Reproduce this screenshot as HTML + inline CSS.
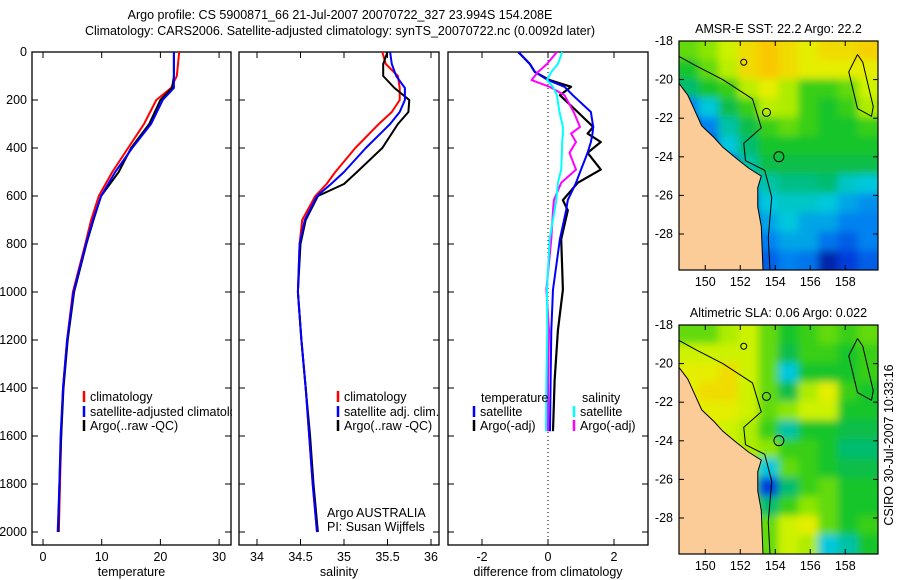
<!DOCTYPE html>
<html><head><meta charset="utf-8"><style>
body{margin:0;background:#fff;}
svg{display:block;font-family:"Liberation Sans",sans-serif;}
text{font-size:12.5px;fill:#000;}
</style></head><body>
<svg id="fig" width="900" height="580" viewBox="0 0 900 580">
<defs><filter id="blur" x="-5%" y="-5%" width="110%" height="110%"><feGaussianBlur stdDeviation="4"/></filter></defs>
<text x="340" y="19" text-anchor="middle">Argo profile: CS 5900871_66 21-Jul-2007 20070722_327 23.994S 154.208E</text>
<text x="340" y="35" text-anchor="middle">Climatology: CARS2006. Satellite-adjusted climatology: synTS_20070722.nc (0.0092d later)</text>
<g id="g1"></g>
<g id="g2"></g>
<g id="g3"></g>
<g id="m1"></g>
<g id="m2"></g>
<text transform="translate(893,445) rotate(-90)" text-anchor="middle">CSIRO 30-Jul-2007 10:33:16</text>
</svg>
<script>
const NS="http://www.w3.org/2000/svg";
// ---- profile data ----
const depthT=[0,50,100,150,200,300,400,500,600,700,800,1000,1200,1400,1600,1800,2000];
const tempClim=[23.2,23.0,22.8,21.8,19.3,17.2,14.5,11.8,9.5,8.2,7.2,5.1,4.1,3.4,3.1,2.9,2.7];
const tempSat=[22.3,22.3,22.3,22.3,20.4,18.4,15.2,12.3,9.9,8.5,7.3,5.2,4.1,3.4,3.0,2.8,2.5];
const tempArgo=[22.3,22.3,22.3,22.0,20.0,18.1,15.0,12.9,9.9,8.6,7.4,5.3,4.2,3.5,3.1,2.8,2.6];
const depthS=[0,50,100,150,200,250,300,400,500,550,600,700,800,1000,1200,1400,1600,1800,2000];
const salClim=[35.44,35.48,35.62,35.64,35.64,35.55,35.40,35.13,34.90,34.80,34.67,34.52,34.49,34.47,34.51,34.56,34.60,34.64,34.69];
const salSat=[35.53,35.55,35.60,35.70,35.70,35.64,35.53,35.25,35.00,34.85,34.69,34.55,34.49,34.47,34.51,34.56,34.60,34.64,34.69];
const salArgo=[35.50,35.45,35.45,35.58,35.75,35.74,35.62,35.44,35.15,35.00,34.70,34.56,34.50,34.47,34.51,34.56,34.61,34.65,34.70];
const depthD=[0,50,83,117,145,180,250,312,340,375,420,490,545,617,660,780,990,1160,1370,1580];
const dTempSat=[-0.9,-0.55,-0.4,0.0,0.5,0.75,1.3,1.37,1.35,1.3,1.2,1.0,0.85,0.6,0.55,0.36,0.15,0.1,0.08,0.06];
const dTempArgo=[-0.9,-0.55,-0.4,0.05,0.7,0.36,0.9,1.37,1.2,1.6,1.2,1.6,0.9,0.45,0.6,0.4,0.45,0.3,0.2,0.15];
const dSalSat=[0.43,0.3,0.1,-0.03,0.15,0.27,0.35,0.45,0.45,0.43,0.42,0.4,0.3,0.25,0.2,0.05,-0.03,-0.02,-0.05,-0.06];
const dSalArgo=[0.27,-0.03,-0.3,-0.5,0.05,0.5,0.78,0.97,0.7,0.85,0.65,0.85,0.4,0.18,0.15,0.1,-0.05,0.03,0.0,0.0];
const depthTicks=[0,200,400,600,800,1000,1200,1400,1600,1800,2000];
const tempTicks=[0,10,20,30];
const salTicks=[34,34.5,35,35.5,36];
const salTickLabels=["34","34.5","35","35.5","36"];
const diffTicks=[-2,0,2];
// ---- map data (rows from -18 south, 10 cols from 148.5E) ----
const sstGrid=[
[0.6,0.65,0.75,0.85,0.9,0.85,0.8,0.85,0.85,0.88],
[0.5,0.6,0.72,0.85,0.9,0.85,0.8,0.8,0.8,0.8],
[0.4,0.5,0.55,0.72,0.8,0.7,0.55,0.55,0.6,0.75],
[0.2,0.3,0.45,0.55,0.72,0.7,0.55,0.5,0.55,0.7],
[0.1,0.2,0.35,0.45,0.55,0.6,0.55,0.5,0.5,0.55],
[0.05,0.1,0.3,0.4,0.5,0.5,0.5,0.5,0.5,0.5],
[0,0.05,0.15,0.35,0.45,0.45,0.45,0.45,0.45,0.45],
[0,0,0.05,0.25,0.35,0.38,0.38,0.4,0.32,0.3],
[0,0,0.05,0.15,0.3,0.32,0.32,0.3,0.25,0.22],
[0,0,0.05,0.15,0.25,0.3,0.25,0.25,0.2,0.2],
[0,0,0,0.1,0.2,0.25,0.25,0.18,0.15,0.2],
[0,0,0,0.1,0.15,0.2,0.18,0.05,0.1,0.15]];
const slaGrid=[
[0.6,0.6,0.7,0.75,0.6,0.5,0.55,0.6,0.55,0.6],
[0.75,0.75,0.75,0.75,0.6,0.45,0.55,0.55,0.5,0.55],
[0.8,0.8,0.85,0.75,0.6,0.3,0.5,0.5,0.5,0.55],
[0.8,0.85,0.85,0.75,0.6,0.45,0.7,0.8,0.55,0.5],
[0.8,0.8,0.8,0.75,0.6,0.65,0.75,0.75,0.5,0.5],
[0.75,0.8,0.75,0.7,0.55,0.35,0.5,0.5,0.45,0.45],
[0.75,0.75,0.75,0.7,0.65,0.55,0.55,0.5,0.4,0.4],
[0.7,0.7,0.7,0.6,0.3,0.6,0.55,0.5,0.45,0.45],
[0.7,0.7,0.7,0.55,0.1,0.4,0.55,0.6,0.5,0.5],
[0.7,0.7,0.7,0.6,0.4,0.55,0.65,0.6,0.5,0.5],
[0.7,0.7,0.7,0.6,0.6,0.75,0.8,0.6,0.5,0.55],
[0.7,0.7,0.7,0.6,0.6,0.75,0.7,0.3,0.35,0.5]];
const coastLon=[148.5,149.0,149.4,149.8,150.5,151.0,151.8,152.5,153.2,153.0,153.0,153.2,153.3,148.5];
const coastLat=[-20.2,-20.8,-21.6,-22.4,-23.0,-23.5,-24.1,-24.6,-25.0,-25.6,-26.6,-27.6,-29.9,-29.9];
const isoLon=[148.5,149.5,151.0,152.7,153.2,152.2,152.3,153.4,153.8,153.6,153.7];
const isoLat=[-18.8,-19.3,-20.0,-21.0,-22.5,-23.3,-24.2,-24.7,-26.1,-28.2,-29.9];
const reefLon=[158.7,159.0,159.6,159.5,158.7,158.2,158.7];
const reefLat=[-18.7,-19.1,-21.4,-21.9,-21.5,-19.6,-18.7];
const latTicks=[-18,-20,-22,-24,-26,-28];
const lonTicks=[150,152,154,156,158];

function el(p,tag,attrs){const e=document.createElementNS(NS,tag);for(const k in attrs)e.setAttribute(k,attrs[k]);p.appendChild(e);return e;}
function txt(p,x,y,s,anchor){const t=el(p,'text',{x:x,y:y,'text-anchor':anchor||'start'});t.textContent=s;return t;}
const Y0=52,YS=0.24,YB=545;
const yD=d=>Y0+YS*d;
function panel(g,x0,x1,xf,ticks,labels,xlabel,showY){
  const r=el(g,'rect',{x:x0,y:Y0,width:x1-x0,height:YB-Y0,fill:'none',stroke:'#000','stroke-width':1.3});
  
  depthTicks.forEach(d=>{const y=yD(d);
    el(g,'line',{x1:x0,x2:x0+6,y1:y,y2:y,stroke:'#000'});el(g,'line',{x1:x1-6,x2:x1,y1:y,y2:y,stroke:'#000'});
    if(showY){const t=txt(g,x0-5,y+4,String(d),'end');}});
  ticks.forEach((v,i)=>{const x=xf(v);
    el(g,'line',{x1:x,x2:x,y1:Y0,y2:Y0+6,stroke:'#000'});el(g,'line',{x1:x,x2:x,y1:YB-6,y2:YB,stroke:'#000'});
    const t=txt(g,x,561,labels[i],'middle');});
  const t=txt(g,(x0+x1)/2,576,xlabel,'middle');
}
function line(g,xs,ds,xf,col,w,name){
  const pts=xs.map((v,i)=>xf(v).toFixed(1)+','+yD(ds[i]).toFixed(1)).join(' ');
  const p=el(g,'polyline',{points:pts,fill:'none',stroke:col,'stroke-width':w,'stroke-linejoin':'round'});
  
}
function leg(g,x,y,col,s){el(g,'line',{x1:x,x2:x,y1:y-6,y2:y+5,stroke:col,'stroke-width':2.5});
  const t=txt(g,x+6,y+4,s);}
// temperature
const g1=document.getElementById('g1');const xT=v=>43+5.87*v;
panel(g1,32,231,xT,tempTicks,tempTicks.map(String),'temperature',true);
line(g1,tempClim,depthT,xT,'#f00',2,'temperature-climatology-line');
line(g1,tempArgo,depthT,xT,'#000',2,'temperature-argo-line');
line(g1,tempSat,depthT,xT,'#00f',2,'temperature-satellite-line');
const c1=el(g1,'svg',{x:32,y:380,width:200,height:60,overflow:'hidden'});
leg(c1,52,17,'#f00','climatology');leg(c1,52,32,'#00f','satellite-adjusted climatology');leg(c1,52,46,'#000','Argo(..raw -QC)');
// salinity
const g2=document.getElementById('g2');const xS=v=>257+87*(v-34);
panel(g2,239,439,xS,salTicks,salTickLabels,'salinity',false);
line(g2,salClim,depthS,xS,'#f00',2,'salinity-climatology-line');
line(g2,salArgo,depthS,xS,'#000',2,'salinity-argo-line');
line(g2,salSat,depthS,xS,'#00f',2,'salinity-satellite-line');
leg(g2,338,397,'#f00','climatology');leg(g2,338,412,'#00f','satellite adj. clim.');leg(g2,338,426,'#000','Argo(..raw -QC)');
txt(g2,327,517,'Argo AUSTRALIA');txt(g2,327,531,'PI: Susan Wijffels');
// difference
const g3=document.getElementById('g3');const xDf=v=>548+33*v;
panel(g3,448,648,xDf,diffTicks,diffTicks.map(String),'difference from climatology',false);
el(g3,'line',{x1:xDf(0),x2:xDf(0),y1:Y0,y2:YB,stroke:'#000','stroke-dasharray':'1,3'});
line(g3,dTempArgo,depthD,xDf,'#000',2.2,'temp-argo-diff-line');
line(g3,dTempSat,depthD,xDf,'#00f',2,'temp-satellite-diff-line');
line(g3,dSalArgo,depthD,xDf,'#f0f',2,'sal-argo-diff-line');
line(g3,dSalSat,depthD,xDf,'#0ff',2,'sal-satellite-diff-line');
txt(g3,481,402,'temperature');txt(g3,582,402,'salinity');
leg(g3,474,412,'#00f','satellite');leg(g3,474,426,'#000','Argo(-adj)');
leg(g3,574,412,'#0ff','satellite');leg(g3,574,426,'#f0f','Argo(-adj)');
// maps
const stops=[[0,[0,16,120]],[0.1,[0,60,220]],[0.2,[0,130,240]],[0.3,[0,200,220]],[0.42,[0,185,90]],[0.52,[30,200,30]],[0.65,[140,230,0]],[0.78,[225,245,0]],[0.9,[250,200,0]],[1,[250,165,0]]];
function cmap(v){for(let i=1;i<stops.length;i++){if(v<=stops[i][0]){const a=stops[i-1],b=stops[i],t=(v-a[0])/(b[0]-a[0]);return 'rgb('+a[1].map((c,k)=>Math.round(c+(b[1][k]-c)*t)).join(',')+')';}}return 'rgb(250,165,0)';}
function map(id,top,grid,title){
  const g=document.getElementById(id);const L=679,R=878,B=top+229;
  const px=lon=>L+(lon-148.5)*17.5, py=lat=>top+(-18-lat)*19.3;
  const cid='clip'+id;const cp=el(g,'clipPath',{id:cid});el(cp,'rect',{x:L,y:top,width:R-L,height:B-top});
  const gg=el(g,'g',{'clip-path':'url(#'+cid+')'});
  const gb=el(gg,'g',{filter:'url(#blur)'});
  const nr=grid.length,nc=grid[0].length;
  const cw=(R-L)/nc,ch=(B-top)/nr,E=15;
  grid.forEach((row,r)=>row.forEach((v,c)=>{
    const x0=L+c*cw-(c===0?E:0.3),x1=L+(c+1)*cw+(c===nc-1?E:0.3);
    const y0=top+r*ch-(r===0?E:0.3),y1=top+(r+1)*ch+(r===nr-1?E:0.3);
    const e=el(gb,'rect',{x:x0,y:y0,width:x1-x0,height:y1-y0,fill:cmap(v)});
    }));
  const land=el(gg,'polygon',{points:coastLon.map((v,i)=>px(v)+','+py(coastLat[i])).join(' '),fill:'#fbcb98',stroke:'#000','stroke-width':1});
  
  el(gg,'polyline',{points:isoLon.map((v,i)=>px(v)+','+py(isoLat[i])).join(' '),fill:'none',stroke:'#000','stroke-width':1});
  el(gg,'polyline',{points:reefLon.map((v,i)=>px(v)+','+py(reefLat[i])).join(' '),fill:'none',stroke:'#000','stroke-width':1});
  el(gg,'circle',{cx:px(152.2),cy:py(-19.1),r:3,fill:'none',stroke:'#000'});
  el(gg,'circle',{cx:px(153.5),cy:py(-21.7),r:4,fill:'none',stroke:'#000'});
  const ac=el(gg,'circle',{cx:px(154.208),cy:py(-23.994),r:5,fill:'none',stroke:'#000'});
  
  el(g,'rect',{x:L,y:top,width:R-L,height:B-top,fill:'none',stroke:'#000','stroke-width':1.2});
  latTicks.forEach(v=>{const y=py(v);el(g,'line',{x1:L,x2:L+5,y1:y,y2:y,stroke:'#000'});el(g,'line',{x1:R-5,x2:R,y1:y,y2:y,stroke:'#000'});
    const t=txt(g,L-6,y+4,String(v),'end');});
  lonTicks.forEach(v=>{const x=px(v);el(g,'line',{x1:x,x2:x,y1:top,y2:top+5,stroke:'#000'});el(g,'line',{x1:x,x2:x,y1:B-5,y2:B,stroke:'#000'});
    const t=txt(g,x,B+16,String(v),'middle');});
  const t=txt(g,(L+R)/2,top-8,title,'middle');
}
map('m1',41,sstGrid,'AMSR-E SST: 22.2 Argo: 22.2');
map('m2',325,slaGrid,'Altimetric SLA: 0.06 Argo: 0.022');
</script>
</body></html>
